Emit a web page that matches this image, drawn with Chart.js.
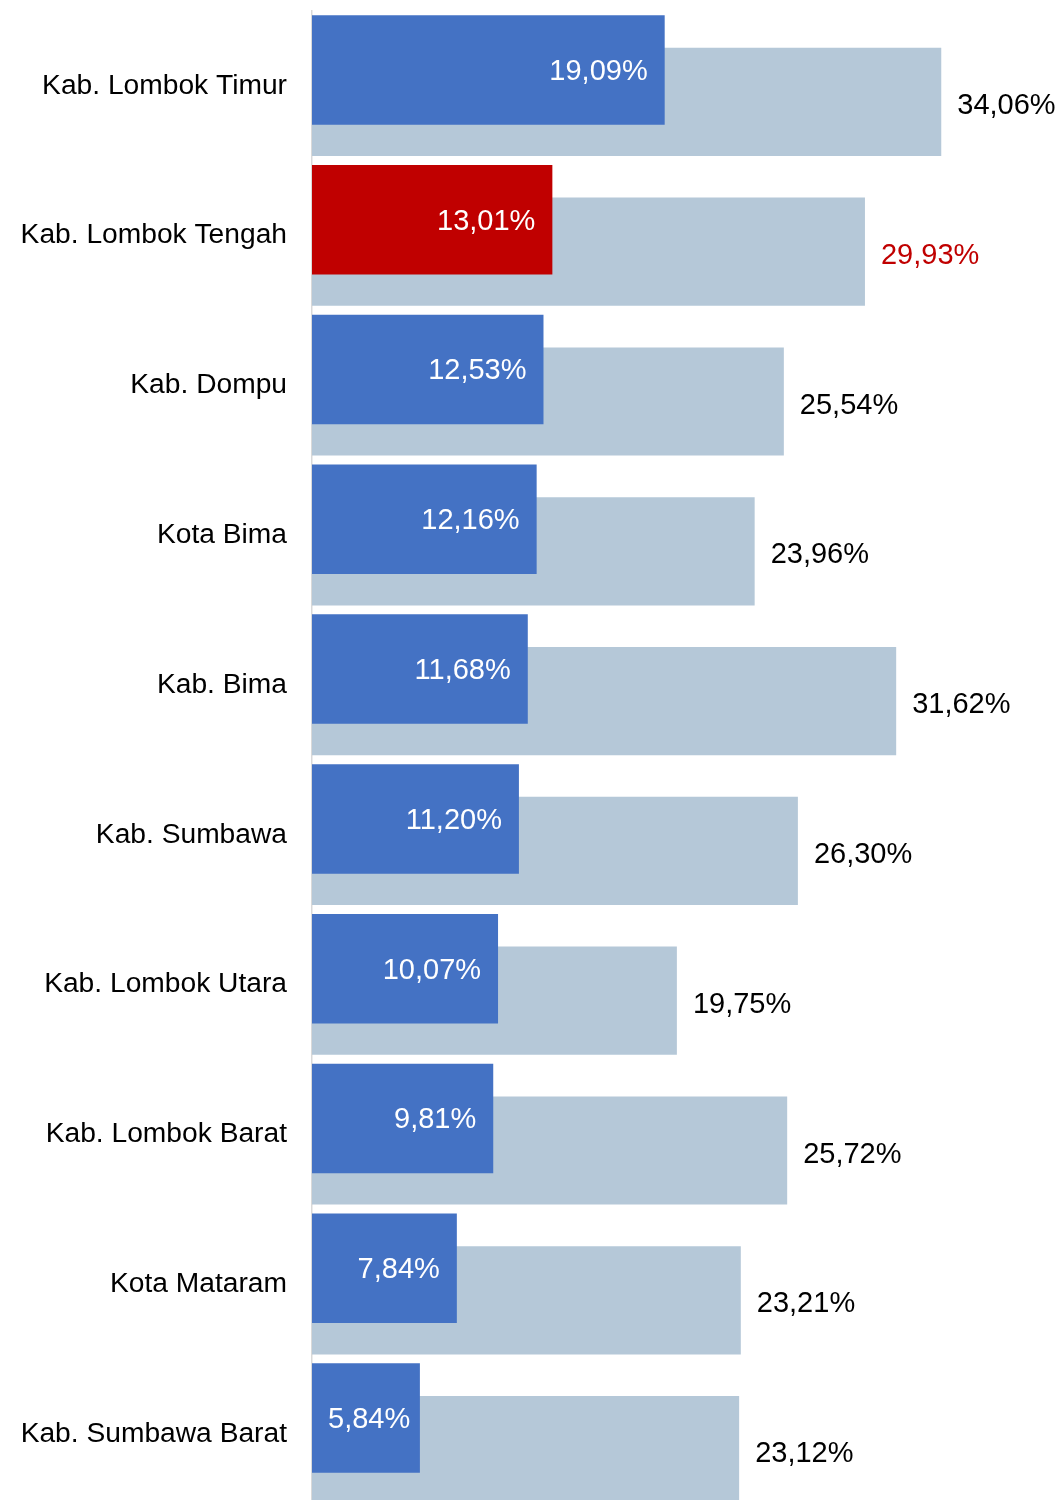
<!DOCTYPE html>
<html>
<head>
<meta charset="utf-8">
<script src="https://cdn.jsdelivr.net/npm/chart.js@4/dist/chart.umd.min.js"></script>
<style>
  html, body { margin: 0; padding: 0; background: #ffffff; }
  #wrap { width: 1060px; height: 1500px; overflow: hidden; position: relative; }
  canvas { display: block; }
</style>
</head>
<body>
<div id="wrap"><canvas id="c" width="1060" height="1510"></canvas></div>
<script>
// ---- data ----
const categories = [
  'Kab. Lombok Timur',
  'Kab. Lombok Tengah',
  'Kab. Dompu',
  'Kota Bima',
  'Kab. Bima',
  'Kab. Sumbawa',
  'Kab. Lombok Utara',
  'Kab. Lombok Barat',
  'Kota Mataram',
  'Kab. Sumbawa Barat'
];
const shareValues = [19.09, 13.01, 12.53, 12.16, 11.68, 11.20, 10.07, 9.81, 7.84, 5.84];
const rateValues  = [34.06, 29.93, 25.54, 23.96, 31.62, 26.30, 19.75, 25.72, 23.21, 23.12];
const highlightCategory = 'Kab. Lombok Tengah';

// ---- styles ----
const BLUE = '#4472C4';
const GREY = '#B5C8D8';
const RED = '#C00000';
const FONT_FAMILY = '"Liberation Sans", Arial, Helvetica, sans-serif';

const hiIndex = categories.indexOf(highlightCategory);
const fmt = v => v.toFixed(2).replace('.', ',') + '%';

const valueLabels = {
  id: 'valueLabels',
  afterDatasetsDraw(chart) {
    const ctx = chart.ctx;
    const axisX = chart.scales.x.getPixelForValue(0);
    ctx.save();
    ctx.font = '29px ' + FONT_FAMILY;
    ctx.textBaseline = 'middle';
    ctx.textAlign = 'left';
    chart.getDatasetMeta(0).data.forEach((bar, i) => {
      const txt = fmt(shareValues[i]);
      const w = ctx.measureText(txt).width;
      let x = bar.x - 17 - w;
      if (x < axisX + 16) x = axisX + 16;
      ctx.fillStyle = '#ffffff';
      ctx.fillText(txt, x, bar.y + 2);
    });
    chart.getDatasetMeta(1).data.forEach((bar, i) => {
      ctx.fillStyle = i === hiIndex ? RED : '#000000';
      ctx.fillText(fmt(rateValues[i]), bar.x + 16, bar.y + 4);
    });
    ctx.restore();
  }
};

new Chart(document.getElementById('c'), {
  type: 'bar',
  data: {
    labels: categories,
    datasets: [
      {
        data: shareValues,
        backgroundColor: categories.map((c, i) => i === hiIndex ? RED : BLUE),
        categoryPercentage: 0.4273,
        barPercentage: 3.42
      },
      {
        data: rateValues,
        backgroundColor: GREY,
        categoryPercentage: 0.4273,
        barPercentage: 3.38
      }
    ]
  },
  options: {
    indexAxis: 'y',
    responsive: false,
    devicePixelRatio: 1,
    animation: false,
    layout: { padding: { top: 11, bottom: 1, left: 0, right: 9 } },
    plugins: {
      legend: { display: false },
      tooltip: { enabled: false },
      title: { display: false }
    },
    scales: {
      x: {
        type: 'linear',
        display: false,
        min: 0,
        max: 40
      },
      y: {
        type: 'category',
        offset: true,
        grid: { display: false, drawTicks: false },
        border: { display: true, color: '#D9D9D9', width: 1.5 },
        ticks: {
          color: '#000000',
          padding: 25,
          autoSkip: false,
          font: { size: 28.2, family: FONT_FAMILY }
        },
        afterFit(scale) {
          scale.width = 312;
          scale.paddingTop = 0;
          scale.paddingBottom = 0;
        }
      }
    }
  },
  plugins: [valueLabels]
});
</script>
</body>
</html>
